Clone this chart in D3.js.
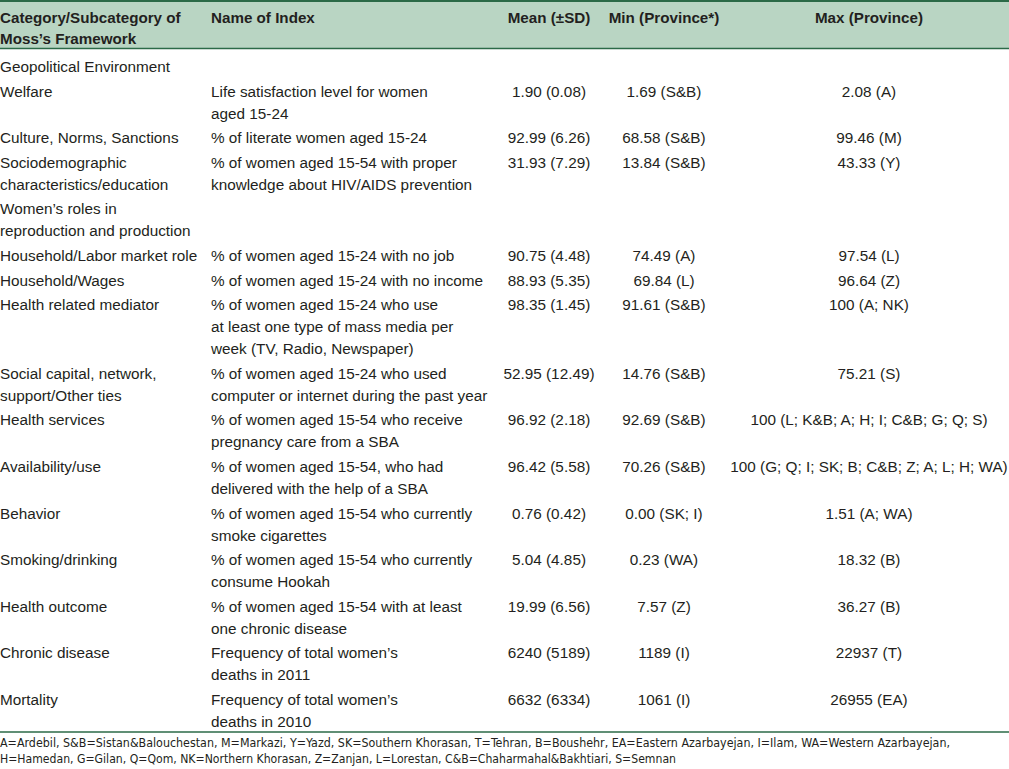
<!DOCTYPE html>
<html>
<head>
<meta charset="utf-8">
<script src="https://cdn.jsdelivr.net/npm/d3@7"></script>
<style>
  body { margin: 0; background: #fff; }
  svg { display: block; }
</style>
</head>
<body>
<script>
    const width = 1009, height = 769;

    // table contents
    const headers = [["Category/Subcategory of", "Moss\u2019s Framework"], ["Name of Index"], ["Mean (\u00b1SD)"], ["Min (Province*)"], ["Max (Province)"]];
    const categories = [
        ["Geopolitical Environment"],
        ["Welfare"],
        ["Culture, Norms, Sanctions"],
        ["Sociodemographic", "characteristics/education"],
        ["Women\u2019s roles in", "reproduction and production"],
        ["Household/Labor market role"],
        ["Household/Wages"],
        ["Health related mediator"],
        ["Social capital, network,", "support/Other ties"],
        ["Health services"],
        ["Availability/use"],
        ["Behavior"],
        ["Smoking/drinking"],
        ["Health outcome"],
        ["Chronic disease"],
        ["Mortality"]
    ];
    const indexNames = [
        [],
        ["Life satisfaction level for women", "aged 15-24"],
        ["% of literate women aged 15-24"],
        ["% of women aged 15-54 with proper", "knowledge about HIV/AIDS prevention"],
        [],
        ["% of women aged 15-24 with no job"],
        ["% of women aged 15-24 with no income"],
        ["% of women aged 15-24 who use", "at least one type of mass media per", "week (TV, Radio, Newspaper)"],
        ["% of women aged 15-24 who used", "computer or internet during the past year"],
        ["% of women aged 15-54 who receive", "pregnancy care from a SBA"],
        ["% of women aged 15-54, who had", "delivered with the help of a SBA"],
        ["% of women aged 15-54 who currently", "smoke cigarettes"],
        ["% of women aged 15-54 who currently", "consume Hookah"],
        ["% of women aged 15-54 with at least", "one chronic disease"],
        ["Frequency of total women\u2019s", "deaths in 2011"],
        ["Frequency of total women\u2019s", "deaths in 2010"]
    ];
    const means = ["", "1.90 (0.08)", "92.99 (6.26)", "31.93 (7.29)", "", "90.75 (4.48)", "88.93 (5.35)", "98.35 (1.45)",
        "52.95 (12.49)", "96.92 (2.18)", "96.42 (5.58)", "0.76 (0.42)", "5.04 (4.85)", "19.99 (6.56)", "6240 (5189)", "6632 (6334)"];
    const mins = ["", "1.69 (S&B)", "68.58 (S&B)", "13.84 (S&B)", "", "74.49 (A)", "69.84 (L)", "91.61 (S&B)",
        "14.76 (S&B)", "92.69 (S&B)", "70.26 (S&B)", "0.00 (SK; I)", "0.23 (WA)", "7.57 (Z)", "1189 (I)", "1061 (I)"];
    const maxs = ["", "2.08 (A)", "99.46 (M)", "43.33 (Y)", "", "97.54 (L)", "96.64 (Z)", "100 (A; NK)",
        "75.21 (S)", "100 (L; K&B; A; H; I; C&B; G; Q; S)", "100 (G; Q; I; SK; B; C&B; Z; A; L; H; WA)", "1.51 (A; WA)",
        "18.32 (B)", "36.27 (B)", "22937 (T)", "26955 (EA)"];
    const footnote = [
        "A=Ardebil, S&B=Sistan&Balouchestan, M=Markazi, Y=Yazd, SK=Southern Khorasan, T=Tehran, B=Boushehr, EA=Eastern Azarbayejan, I=Ilam, WA=Western Azarbayejan,",
        "H=Hamedan, G=Gilan, Q=Qom, NK=Northern Khorasan, Z=Zanjan, L=Lorestan, C&B=Chaharmahal&Bakhtiari, S=Semnan"
    ];
    const footWidths = [950, 676];

    const ink = "#231f20", green = "#2b6a47", headFill = "#b9d5c3";
    const font = "'Liberation Sans', Arial, sans-serif";
    const lineH = 22, rowGap = 2.6;

    // column anchors
    const cols = [
        {x: 0, anchor: "start"},
        {x: 211, anchor: "start"},
        {x: 549, anchor: "middle"},
        {x: 664, anchor: "middle"},
        {x: 869, anchor: "middle"}
    ];

    const svg = d3.select("body").append("svg")
        .attr("width", width)
        .attr("height", height);

    // header band
    svg.append("rect").attr("x", 0).attr("y", 1.5).attr("width", width).attr("height", 47).attr("fill", headFill);
    svg.append("line").attr("x1", 0).attr("x2", width).attr("y1", 1).attr("y2", 1).attr("stroke", green).attr("stroke-width", 2);
    svg.append("line").attr("x1", 0).attr("x2", width).attr("y1", 48.5).attr("y2", 48.5).attr("stroke", green).attr("stroke-width", 1.5);

    const head = svg.append("g")
        .style("font-family", font).style("font-size", "15.2px").style("font-weight", "bold").attr("fill", ink);
    headers.forEach((h, i) => {
        h.forEach((t, j) => {
            head.append("text")
                .attr("x", cols[i].x)
                .attr("y", 23 + j * 21)
                .attr("text-anchor", cols[i].anchor)
                .text(t);
        });
    });

    // body rows: baseline of first line of each row
    let y0 = 72;
    const rowY = categories.map((c, i) => {
        const n = Math.max(c.length, indexNames[i].length, 1);
        const y = y0;
        y0 += n * lineH + rowGap;
        return y;
    });

    const body = svg.append("g")
        .style("font-family", font).style("font-size", "15.3px").attr("fill", ink);
    const cells = [categories, indexNames, means.map(d => [d]), mins.map(d => [d]), maxs.map(d => [d])];
    cells.forEach((col, ci) => {
        col.forEach((lines, ri) => {
            lines.forEach((t, li) => {
                if (!t) return;
                body.append("text")
                    .attr("x", cols[ci].x)
                    .attr("y", rowY[ri] + li * lineH)
                    .attr("text-anchor", cols[ci].anchor)
                    .text(t);
            });
        });
    });

    svg.append("line").attr("x1", 0).attr("x2", width).attr("y1", 732).attr("y2", 732).attr("stroke", green).attr("stroke-width", 1.5);

    const foot = svg.append("g")
        .style("font-family", "'Liberation Sans Narrow', 'DejaVu Sans Condensed', sans-serif")
        .style("font-size", "13px").attr("fill", ink);
    footnote.forEach((t, i) => {
        foot.append("text").attr("x", 0).attr("y", 747 + i * 15.5)
            .attr("textLength", footWidths[i]).attr("lengthAdjust", "spacingAndGlyphs")
            .text(t);
    });
</script>
</body>
</html>
